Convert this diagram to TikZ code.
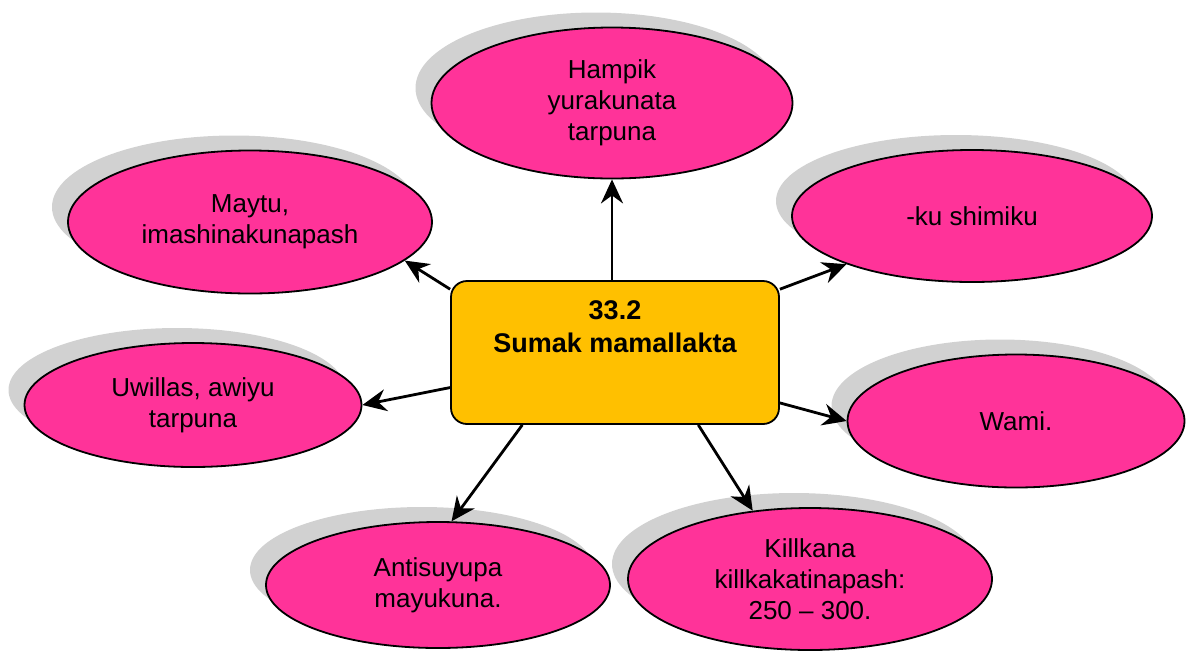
\documentclass[tikz,border=0pt]{standalone}
\usepackage{fontspec}
\setmainfont{Liberation Sans}
\usepackage{xcolor}
\usetikzlibrary{shapes.geometric, shadows, arrows.meta}
\definecolor{petal}{HTML}{FF3399}
\definecolor{hub}{HTML}{FFC000}

\begin{document}
\begin{tikzpicture}[x=1pt, y=-1pt,
    idea/.style = {ellipse, draw, line width=1.8pt, fill=petal,
      inner sep=0pt, align=center,
      font=\fontsize{26}{31}\selectfont,
      drop shadow={shadow xshift=-16pt, shadow yshift=15pt,
        fill=black!18, opacity=1}},
    hubbox/.style = {rectangle, rounded corners=16pt, draw, line width=1.8pt,
      fill=hub, minimum width=328pt, minimum height=143pt},
    arr/.style = {line width=2.8pt, -{Stealth[length=24pt, width=22pt, inset=8pt]}}]
    \useasboundingbox (0,0) rectangle (1191,657);
    \node[idea, minimum width=361pt, minimum height=151pt] (hampik) at (612,103)
      {Hampik\\yurakunata\\tarpuna};
    \node[idea, minimum width=364pt, minimum height=143pt] (maytu) at (250,222)
      {Maytu,\\imashinakunapash};
    \node[idea, minimum width=360pt, minimum height=132pt] (ku) at (972,216)
      {-ku shimiku};
    \node[idea, minimum width=337pt, minimum height=124pt] (uwillas) at (193,405)
      {Uwillas, awiyu\\tarpuna};
    \node[idea, minimum width=337pt, minimum height=133pt] (wami) at (1016,421)
      {Wami.};
    \node[idea, minimum width=344pt, minimum height=126pt] (anti) at (438,585)
      {Antisuyupa\\mayukuna.};
    \node[idea, minimum width=364pt, minimum height=142pt] (killkana) at (810,579)
      {Killkana\\killkakatinapash:\\250 -- 300.};
    \node[hubbox] (box) at (615,352.5) {};
    \node[align=center, anchor=north, inner sep=0pt,
      font=\bfseries\fontsize{27}{33}\selectfont]
      (title) at ([yshift=-20pt]box.north) {33.2\\Sumak mamallakta};
    \draw[arr] (box.north -| hampik.south) -- (hampik.south);
    \draw[arr] (box.159) -- (maytu.-14);
    \draw[arr] (box.21.5) -- (ku.-159.6);
    \draw[arr] (box.192.9) -- (uwillas.east);
    \draw[arr] (box.-17.7) -- (wami.west);
    \draw[arr] (box.-142.4) -- (anti.78);
    \draw[arr] (box.-41.1) -- (killkana.130);
\end{tikzpicture}
\end{document}
